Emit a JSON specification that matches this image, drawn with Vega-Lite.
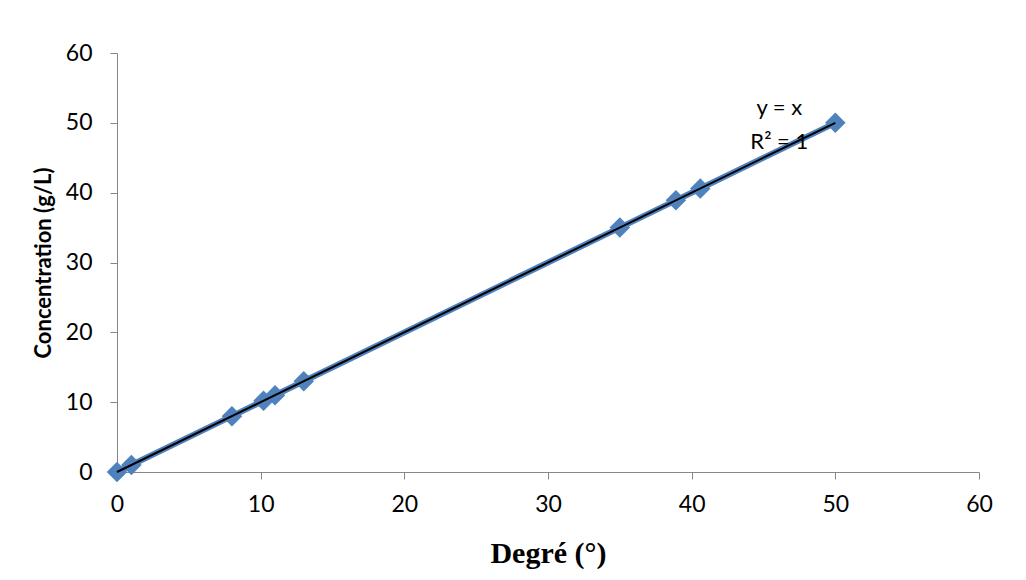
{
  "$schema": "https://vega.github.io/schema/vega-lite/v6.json",
  "autosize": "none",
  "width": 862,
  "height": 419,
  "padding": {"left": 117, "top": 53, "right": 47, "bottom": 108},
  "background": "white",
  "config": {
    "view": {"stroke": null},
    "axis": {"grid": false, "domainColor": "#868686", "tickColor": "#868686", "tickSize": 7, "labelColor": "black", "labelFont": "Lato", "labelFontSize": 23, "labelFlush": false, "titleColor": "black"}
  },
  "datasets": {
    "pts": [
      {"deg": 0, "conc": 0},
      {"deg": 1, "conc": 1},
      {"deg": 8, "conc": 8},
      {"deg": 10.2, "conc": 10.2},
      {"deg": 11, "conc": 11},
      {"deg": 13, "conc": 13},
      {"deg": 35, "conc": 35},
      {"deg": 38.9, "conc": 38.9},
      {"deg": 40.6, "conc": 40.6},
      {"deg": 50, "conc": 50}
    ],
    "eq": [
      {"deg": 46.1, "conc": 52.1, "label": "y = x"},
      {"deg": 46.1, "conc": 47.3, "label": "R² = 1"}
    ]
  },
  "layer": [
    {
      "data": {"name": "pts"},
      "mark": {"type": "line", "color": "#4F81BD", "strokeWidth": 6},
      "encoding": {
        "x": {"field": "deg", "type": "quantitative", "scale": {"domain": [0, 60]},
              "axis": {"values": [0,10,20,30,40,50,60], "title": "Degré (°)", "titleFont": "Liberation Serif", "titleFontSize": 30, "titleFontWeight": "bold", "titlePadding": 22, "labelPadding": 14}},
        "y": {"field": "conc", "type": "quantitative", "scale": {"domain": [0, 60]},
              "axis": {"values": [0,10,20,30,40,50,60], "title": "Concentration (g/L)", "titleFont": "Lato", "titleFontSize": 22, "titleFontWeight": "bold", "titlePadding": 10, "labelPadding": 18}}
      }
    },
    {
      "data": {"name": "pts"},
      "mark": {"type": "point", "shape": "diamond", "filled": true, "size": 420, "color": "#4F81BD", "opacity": 1},
      "encoding": {
        "x": {"field": "deg", "type": "quantitative"},
        "y": {"field": "conc", "type": "quantitative"}
      }
    },
    {
      "data": {"name": "pts"},
      "transform": [{"regression": "conc", "on": "deg"}],
      "mark": {"type": "line", "color": "black", "strokeWidth": 2},
      "encoding": {
        "x": {"field": "deg", "type": "quantitative"},
        "y": {"field": "conc", "type": "quantitative"}
      }
    },
    {
      "data": {"name": "eq"},
      "mark": {"type": "text", "font": "Lato", "fontSize": 22, "color": "black", "align": "center", "baseline": "middle"},
      "encoding": {
        "x": {"field": "deg", "type": "quantitative"},
        "y": {"field": "conc", "type": "quantitative"},
        "text": {"field": "label"}
      }
    }
  ]
}
